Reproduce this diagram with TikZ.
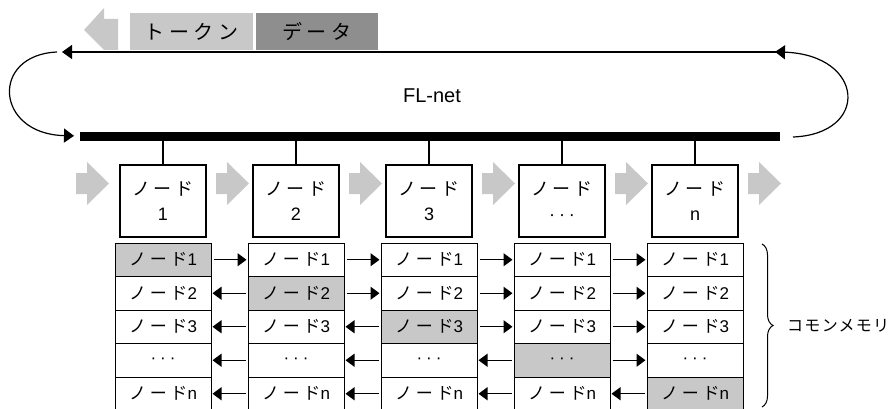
\documentclass[tikz,border=0pt]{standalone}
\usepackage{fontspec}
\setmainfont{Liberation Sans}
\newfontfamily\jpfont{Noto Sans CJK JP}[LetterSpace=22]
\newfontfamily\jplabel{Noto Sans CJK JP}[LetterSpace=8]
\usetikzlibrary{arrows.meta,decorations.pathreplacing}
\definecolor{tokengray}{HTML}{C8C8C8}
\definecolor{datagray}{HTML}{8E8E8E}
\newcommand{\nd}{{\jpfont ノード}}
\newcommand{\mdots}{\textperiodcentered\hspace{4pt}\textperiodcentered\hspace{4pt}\textperiodcentered}
\tikzset{
  bus/.style={line width=9pt},
  ring/.style={line width=1.2pt,-{Triangle[length=10pt,width=14pt]}},
  stem/.style={line width=1.2pt},
  nodebox/.style={draw,line width=1.2pt,fill=white,minimum width=86pt,minimum height=72pt,
    align=center,font=\fontsize{18}{25}\selectfont},
  cell/.style={draw,line width=1pt,minimum width=96pt,minimum height=33.5pt,
    inner sep=0pt,font=\fontsize{17}{20}\selectfont},
  copyarrow/.style={line width=1.2pt,-{Triangle[length=9pt,width=13pt]},shorten <=2pt,shorten >=1pt},
  tag/.style={minimum height=37pt,inner sep=0pt,font=\fontsize{20}{22}\selectfont},
}

\begin{document}
\begin{tikzpicture}[x=1pt,y=-1pt]
  \useasboundingbox (0,0) rectangle (896,409);
  \clip (0,0) rectangle (896,409);
  % frame on the ring
  \fill[tokengray] (84,30) -- (104,8) -- (104,19) -- (118,19) -- (118,50) -- (104,50) -- cycle;
  \node[tag,fill=tokengray,minimum width=123pt] (token) at (191.5,31.5) {\jpfont トークン};
  \node[tag,fill=datagray,minimum width=122pt] (data) at (317,31.5) {\jpfont データ};

  % ring and bus
  \coordinate (top-r) at (780,52);
  \coordinate (top-l) at (62,52);
  \coordinate (bus-l) at (80,136);
  \coordinate (bus-r) at (780,136);
  \coordinate (loop-l) at (57,52);
  \coordinate (loop-r) at (793,137);
  \draw[ring] (top-r) -- (top-l);
  \draw[bus] (bus-l) -- (bus-r);
  \draw[ring,shorten >=6pt] (loop-l) .. controls (-10,55) and (-5,134) .. (bus-l);
  \draw[ring,shorten >=-5pt] (loop-r) .. controls (870,134) and (865,55) .. (top-r);
  \node[font=\fontsize{20}{22}\selectfont] (flnet) at (432,96) {FL-net};

  % stations
  \foreach \i/\lab in {1/1,2/2,3/3,4/\mdots,5/n} {
    \node[nodebox] (nd\i) at ({163+133*(\i-1)},201) {\nd\\\lab};
    \draw[stem] (nd\i.north) -- (nd\i.north |- bus-l);
  }
  \foreach \x in {76,216,349,482,615,748}
    \fill[tokengray] (\x,173) -- ++(11,0) -- ++(0,-11) -- ++(22,21.5) -- ++(-22,21.5)
      -- ++(0,-11) -- ++(-11,0) -- cycle;

  % common memory
  \foreach \c in {1,...,5}
    \foreach \r/\txt in {1/\nd1,2/\nd2,3/\nd3,4/\mdots,5/\nd n} {
      \ifnum\c=\r \def\cellfill{tokengray}\else \def\cellfill{white}\fi
      \node[cell,fill=\cellfill] (m\c-\r) at ({163+133*(\c-1)},{259.75+33.5*(\r-1)}) {\txt};
    }
  \foreach \c [evaluate=\c as \nx using int(\c+1)] in {1,...,4}
    \foreach \r in {1,...,5} {
      \ifnum\r>\c
        \draw[copyarrow] (m\nx-\r) -- (m\c-\r);
      \else
        \draw[copyarrow] (m\c-\r) -- (m\nx-\r);
      \fi
    }
  \draw[line width=1pt,decorate,decoration={brace,amplitude=11pt}]
    (762,244) -- (762,407) coordinate[midway] (brace);
  \node[anchor=west,inner sep=0pt,font=\fontsize{16}{20}\selectfont] (common) at (787,326) {\jplabel コモンメモリ};
\end{tikzpicture}
\end{document}
